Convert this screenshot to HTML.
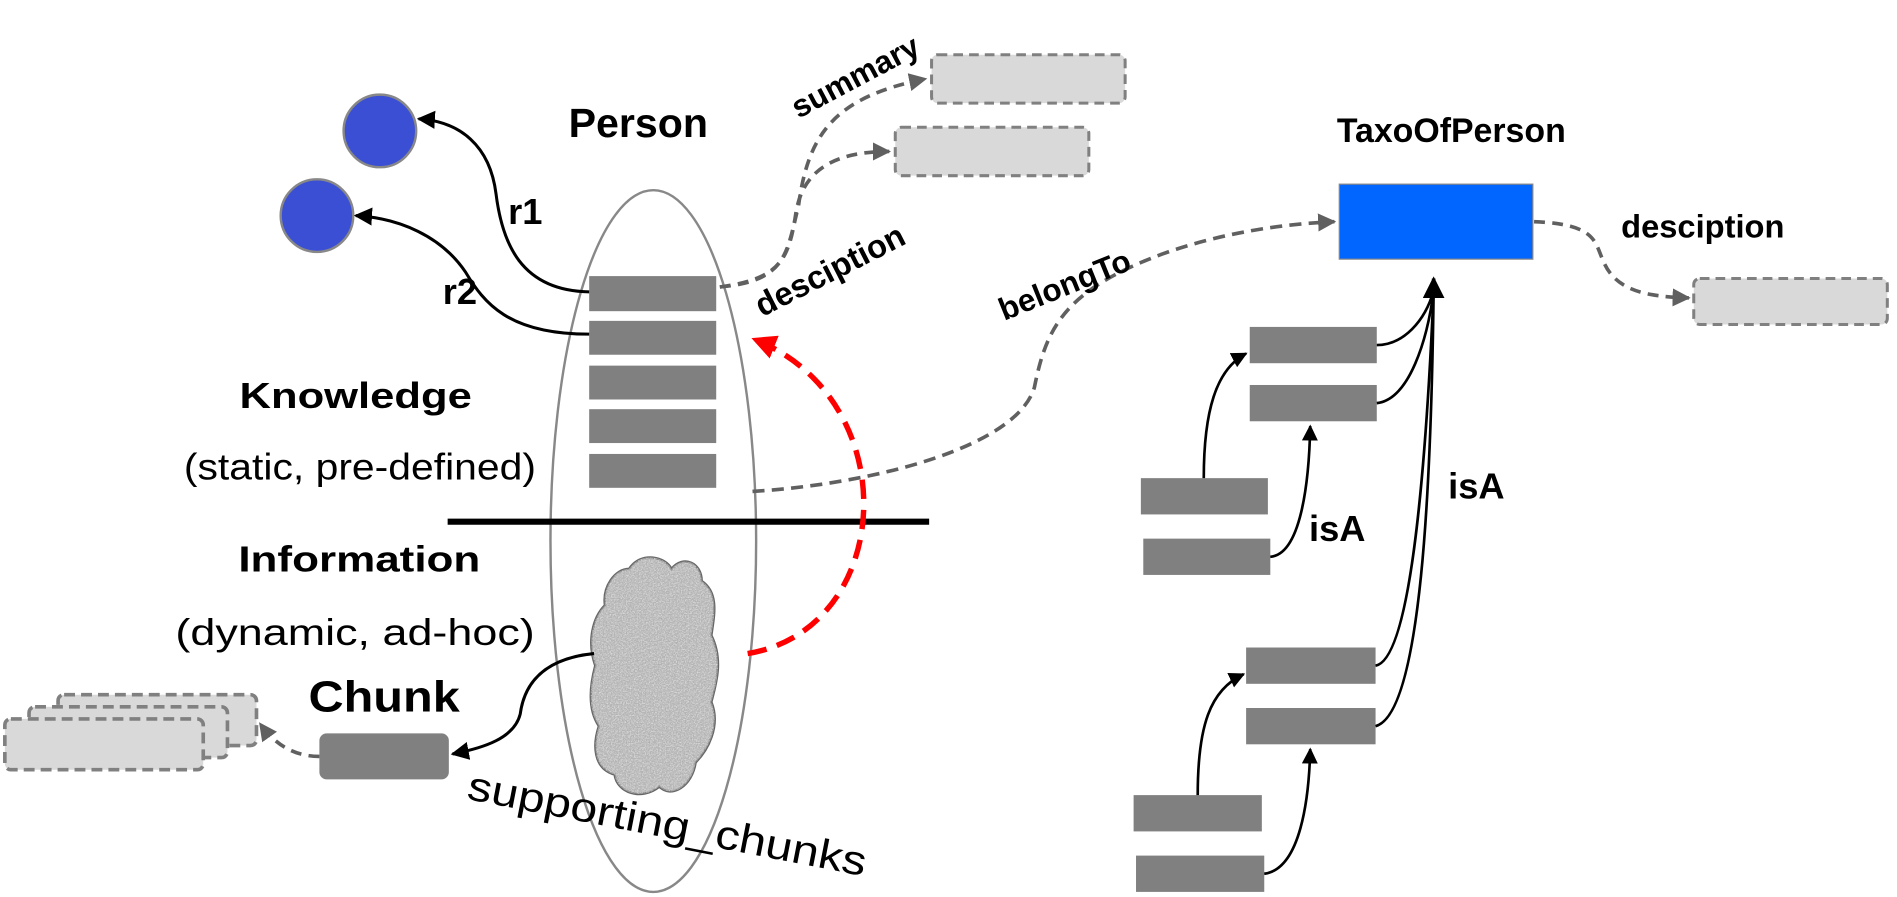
<!DOCTYPE html>
<html><head><meta charset="utf-8"><style>html,body{margin:0;padding:0;background:#fff}svg{display:block}</style></head>
<body>
<svg width="1897" height="897" viewBox="0 0 1568 741" xmlns="http://www.w3.org/2000/svg" font-family="Liberation Sans, sans-serif">
<defs>
<marker id="ab" viewBox="0 0 10 10" refX="9" refY="5" markerWidth="6" markerHeight="6" orient="auto"><path d="M0,0L10,5L0,10z" fill="#000"/></marker>
<marker id="ag" viewBox="0 0 10 10" refX="9" refY="5" markerWidth="5" markerHeight="5" orient="auto"><path d="M0,0L10,5L0,10z" fill="#606060"/></marker>
<marker id="ar" viewBox="0 0 10 10" refX="9" refY="5" markerWidth="4.5" markerHeight="4.5" orient="auto"><path d="M0,0L10,5L0,10z" fill="#f00"/></marker>
<filter id="noise"><feTurbulence type="fractalNoise" baseFrequency="0.9" numOctaves="2" result="n"/><feColorMatrix type="saturate" values="0"/><feComponentTransfer><feFuncR type="discrete" tableValues="0.3 0.55 0.8 0.95"/><feFuncG type="discrete" tableValues="0.3 0.55 0.8 0.95"/><feFuncB type="discrete" tableValues="0.3 0.55 0.8 0.95"/></feComponentTransfer><feComposite in2="SourceGraphic" operator="in"/></filter>
</defs>

<circle cx="314" cy="108" r="30" fill="#3a4fd4" stroke="#888" stroke-width="2"/>
<circle cx="262" cy="178" r="30" fill="#3a4fd4" stroke="#888" stroke-width="2"/>

<text x="470" y="113" font-size="34" font-weight="bold">Person</text>

<ellipse cx="540" cy="447" rx="85" ry="290" fill="none" stroke="#888" stroke-width="2"/>

<g fill="#808080">
<rect x="487" y="228" width="105" height="29"/>
<rect x="487" y="265" width="105" height="28"/>
<rect x="487" y="302" width="105" height="28"/>
<rect x="487" y="338" width="105" height="28"/>
<rect x="487" y="375" width="105" height="28"/>
</g>

<path d="M487,241 C430,240 415,200 410,160 C405,120 380,100 346,98" fill="none" stroke="#000" stroke-width="2.5" marker-end="url(#ab)"/>
<path d="M487,276 C420,276 400,250 385,225 C365,195 330,180 294,178" fill="none" stroke="#000" stroke-width="2.5" marker-end="url(#ab)"/>
<text x="420" y="185" font-size="30" font-weight="bold">r1</text>
<text x="366" y="251" font-size="30" font-weight="bold">r2</text>

<text x="198" y="337" font-size="30" font-weight="bold" textLength="192" lengthAdjust="spacingAndGlyphs">Knowledge</text>
<text x="152" y="396" font-size="31" textLength="291" lengthAdjust="spacingAndGlyphs">(static, pre-defined)</text>
<line x1="370" y1="431" x2="768" y2="431" stroke="#000" stroke-width="5"/>
<text x="197" y="472" font-size="30" font-weight="bold" textLength="200" lengthAdjust="spacingAndGlyphs">Information</text>
<text x="145" y="533" font-size="31" textLength="297" lengthAdjust="spacingAndGlyphs">(dynamic, ad-hoc)</text>

<path d="M520,470 C530,455 550,460 555,470 C565,458 580,465 580,480 C595,490 590,510 588,525 C598,545 592,565 588,580 C596,600 585,620 575,630 C572,650 555,660 545,650 C530,662 510,655 508,640 C490,635 490,615 495,600 C485,585 488,565 492,550 C485,530 490,510 500,500 C498,485 508,470 520,470Z" fill="#aaa" stroke="#666" stroke-width="2"/>
<path d="M520,470 C530,455 550,460 555,470 C565,458 580,465 580,480 C595,490 590,510 588,525 C598,545 592,565 588,580 C596,600 585,620 575,630 C572,650 555,660 545,650 C530,662 510,655 508,640 C490,635 490,615 495,600 C485,585 488,565 492,550 C485,530 490,510 500,500 C498,485 508,470 520,470Z" fill="#999" filter="url(#noise)"/>

<text x="255" y="588" font-size="36" font-weight="bold" textLength="125" lengthAdjust="spacingAndGlyphs">Chunk</text>
<rect x="264" y="606" width="107" height="38" rx="6" fill="#808080"/>
<path d="M491,540 C440,545 432,575 430,590 C425,610 400,618 374,623" fill="none" stroke="#000" stroke-width="2.5" marker-end="url(#ab)"/>
<text x="385" y="660" font-size="34" transform="rotate(11 385 660)" textLength="335" lengthAdjust="spacingAndGlyphs">supporting_chunks</text>

<g fill="#d9d9d9" stroke="#808080" stroke-width="3" stroke-dasharray="9,5">
<rect x="48" y="574" width="164" height="42" rx="5"/>
<rect x="24" y="584" width="164" height="42" rx="5"/>
<rect x="4" y="594" width="164" height="42" rx="5"/>
</g>
<path d="M264,625 C240,625 225,612 215,598" fill="none" stroke="#606060" stroke-width="3" stroke-dasharray="9,6" marker-end="url(#ag)"/>

<path d="M618,540 C740,520 750,330 623,280" fill="none" stroke="#f00" stroke-width="4.5" stroke-dasharray="16,9" marker-end="url(#ar)"/>

<g fill="#d9d9d9" stroke="#808080" stroke-width="2.5" stroke-dasharray="8,5">
<rect x="770" y="45" width="160" height="40" rx="5"/>
<rect x="740" y="105" width="160" height="40" rx="5"/>
</g>
<path d="M595,237 C650,232 650,210 660,170 C668,110 690,80 765,65" fill="none" stroke="#606060" stroke-width="3" stroke-dasharray="9,6" marker-end="url(#ag)"/>
<path d="M595,237 C645,230 652,215 658,175 C664,140 690,125 735,125" fill="none" stroke="#606060" stroke-width="3" stroke-dasharray="9,6" marker-end="url(#ag)"/>
<text x="660" y="98" font-size="26" font-weight="bold" transform="rotate(-28 660 98)">summary</text>
<text x="630" y="262" font-size="27" font-weight="bold" transform="rotate(-27 630 262)">desciption</text>

<path d="M622,406 C720,400 840,370 855,320 C865,270 880,240 960,210 C1010,192 1060,185 1103,183" fill="none" stroke="#606060" stroke-width="3" stroke-dasharray="10,6" marker-end="url(#ag)"/>
<text x="830" y="265" font-size="26" font-weight="bold" transform="rotate(-22 830 265)">belongTo</text>

<text x="1105" y="117" font-size="28" font-weight="bold">TaxoOfPerson</text>
<rect x="1107" y="152" width="160" height="62" fill="#0066ff" stroke="#888" stroke-width="1"/>
<text x="1340" y="196" font-size="27" font-weight="bold">desciption</text>
<path d="M1268,183 C1320,185 1318,200 1325,215 C1335,240 1360,245 1396,246" fill="none" stroke="#606060" stroke-width="3" stroke-dasharray="9,6" marker-end="url(#ag)"/>
<rect x="1400" y="230" width="160" height="38" rx="5" fill="#d9d9d9" stroke="#808080" stroke-width="2.5" stroke-dasharray="8,5"/>

<g fill="#808080">
<rect x="1033" y="270" width="105" height="30"/>
<rect x="1033" y="318" width="105" height="30"/>
<rect x="943" y="395" width="105" height="30"/>
<rect x="945" y="445" width="105" height="30"/>
<rect x="1030" y="535" width="107" height="30"/>
<rect x="1030" y="585" width="107" height="30"/>
<rect x="937" y="657" width="106" height="30"/>
<rect x="939" y="707" width="106" height="30"/>
</g>
<g fill="none" stroke="#000" stroke-width="2.2">
<path d="M1138,285 C1160,285 1178,265 1185,240"/>
<path d="M1138,333 C1165,330 1180,280 1185,240"/>
<path d="M1137,550 C1165,545 1178,400 1185,240"/>
<path d="M1137,600 C1175,590 1183,400 1185,240"/>
<path d="M1185,240 L1185,230" marker-end="url(#ab)" stroke-width="3"/>
<path d="M995,395 C995,340 1005,305 1030,292" marker-end="url(#ab)"/>
<path d="M1050,460 C1075,458 1082,400 1083,352" marker-end="url(#ab)"/>
<path d="M990,657 C990,600 1000,570 1028,557" marker-end="url(#ab)"/>
<path d="M1045,722 C1075,718 1082,660 1083,619" marker-end="url(#ab)"/>
</g>
<text x="1082" y="447" font-size="30" font-weight="bold">isA</text>
<text x="1197" y="412" font-size="30" font-weight="bold">isA</text>
</svg>
</body></html>
